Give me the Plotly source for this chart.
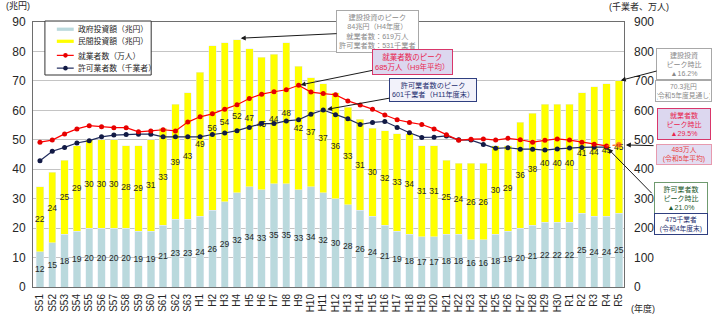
import plotly.graph_objects as go

# 年度
years = ["S51", "S52", "S53", "S54", "S55", "S56", "S57", "S58", "S59", "S60",
         "S61", "S62", "S63", "H1", "H2", "H3", "H4", "H5", "H6", "H7",
         "H8", "H9", "H10", "H11", "H12", "H13", "H14", "H15", "H16", "H17",
         "H18", "H19", "H20", "H21", "H22", "H23", "H24", "H25", "H26", "H27",
         "H28", "H29", "H30", "R1", "R2", "R3", "R4", "R5"]

# 政府投資額（兆円）
gov_invest = [12, 15, 18, 19, 20, 20, 20, 20, 19, 19,
              21, 23, 23, 24, 26, 29, 32, 34, 33, 35,
              35, 33, 34, 32, 30, 28, 26, 24, 21, 19,
              18, 17, 17, 18, 18, 16, 16, 18, 19, 20,
              21, 22, 22, 22, 25, 24, 24, 25]

# 民間投資額（兆円）
priv_invest = [22, 24, 25, 29, 30, 30, 30, 28, 29, 31,
               33, 39, 43, 49, 56, 54, 52, 47, 45, 44,
               48, 42, 37, 37, 36, 33, 31, 30, 32, 33,
               34, 31, 31, 25, 24, 26, 26, 30, 29, 36,
               38, 40, 40, 40, 41, 44, 45, 45]

# 就業者数（万人）
workers = [492, 499, 520, 537, 548, 544, 541, 541, 527, 530,
           534, 530, 560, 578, 588, 604, 619, 640, 655, 663,
           670, 685, 662, 657, 653, 632, 618, 604, 584, 568,
           559, 552, 537, 517, 498, 502, 503, 499, 505, 500,
           492, 498, 503, 499, 492, 485, 479, 483]

# 許可業者数（千業者、年度末）— R5 は未集計
licensed = [429, 461, 474, 489, 497, 510, 516, 518, 519, 519,
            510, 510, 510, 510, 518, 523, 531, 542, 555, 555,
            564, 568, 587, 601, 585, 571, 552, 559, 562, 542,
            524, 508, 509, 513, 500, 499, 484, 471, 473, 468,
            468, 465, 469, 472, 474, 475, 475, None]

legend_names = ["政府投資額（兆円）", "民間投資額（兆円）", "就業者数（万人）", "許可業者数（千業者）"]

FONT = "Liberation Sans, Noto Sans CJK JP, sans-serif"
INK = "#262626"

W, H = 712, 324
L, R, T, B = 29, 88, 22, 32
PW, PH = W - L - R, H - T - B


def fx(p):
    """pixel x -> paper x"""
    return (p - L) / PW


def fy(p):
    """pixel y -> paper y"""
    return (H - B - p) / PH


xs = list(range(len(years)))
BLUE, YELLOW, RED, NAVY = "#BAD9DD", "#FFFF00", "#FF0000", "#1F2A5C"

fig = go.Figure()
fig.add_bar(x=xs, y=gov_invest, name=legend_names[0], marker_color=BLUE,
            width=0.6, text=gov_invest, texttemplate="%{text}",
            textposition="inside", insidetextanchor="middle", textangle=0,
            textfont=dict(size=8.5, color=INK, family=FONT))
fig.add_bar(x=xs, y=priv_invest, name=legend_names[1], marker_color=YELLOW,
            width=0.6, text=priv_invest, texttemplate="%{text}",
            textposition="inside", insidetextanchor="middle", textangle=0,
            textfont=dict(size=8.5, color=INK, family=FONT))
fig.add_scatter(x=xs, y=licensed, yaxis="y2", name=legend_names[3],
                mode="lines+markers", line=dict(color=NAVY, width=1.2),
                marker=dict(size=5, color="#121A45"))
fig.add_scatter(x=xs[:-1], y=workers[:-1], yaxis="y2", name=legend_names[2],
                mode="lines+markers", line=dict(color=RED, width=1.2),
                marker=dict(size=5, color="#E60000"))
# 令和5年は年平均の見込み値
fig.add_scatter(x=xs[-2:], y=workers[-2:], yaxis="y2", showlegend=False,
                mode="lines+markers", line=dict(color="#FF5A1F", width=1.2, dash="dot"),
                marker=dict(size=[0, 5], color="#FF3A1F"))

fig.update_layout(
    width=W, height=H, barmode="stack", showlegend=False,
    margin=dict(l=L, r=R, t=T, b=B),
    paper_bgcolor="white", plot_bgcolor="white",
    font=dict(family=FONT, color=INK),
    uniformtext=dict(mode="show", minsize=8.5),
    xaxis=dict(range=[-0.565, 47.42], tickmode="array", tickvals=xs, ticktext=years,
               tickangle=-90, tickfont=dict(size=10, color=INK), showgrid=False,
               showline=True, mirror=True, linecolor="#6E6E6E", linewidth=1,
               ticks="", ticklabelstandoff=2, zeroline=False),
    yaxis=dict(range=[0, 90], dtick=10, tickfont=dict(size=12, color=INK),
               showgrid=True, gridcolor="#C4C4C4", gridwidth=1,
               showline=True, mirror=True, linecolor="#6E6E6E", linewidth=1,
               ticks="", ticklabelstandoff=4, zeroline=False),
    yaxis2=dict(range=[0, 900], dtick=100, overlaying="y", side="right",
                tickfont=dict(size=12, color=INK), showgrid=False, zeroline=False,
                ticks="", ticklabelstandoff=9),
)

# ---- 凡例 ----
shapes = [
    dict(type="rect", xref="paper", yref="paper", x0=fx(41), x1=fx(148), y0=fy(76), y1=fy(21),
         line=dict(color="#333333", width=1), fillcolor="white"),
    dict(type="rect", xref="paper", yref="paper", x0=fx(53), x1=fx(70), y0=fy(31), y1=fy(27.7),
         line=dict(width=0), fillcolor=BLUE),
    dict(type="rect", xref="paper", yref="paper", x0=fx(53), x1=fx(70), y0=fy(43.3), y1=fy(40),
         line=dict(width=0), fillcolor=YELLOW),
    dict(type="line", xref="paper", yref="paper", x0=fx(53), x1=fx(70), y0=fy(56), y1=fy(56),
         line=dict(color=RED, width=1.2)),
    dict(type="circle", xref="paper", yref="paper", x0=fx(59.4), x1=fx(64), y0=fy(58.3), y1=fy(53.7),
         line=dict(width=0), fillcolor="#E60000"),
    dict(type="line", xref="paper", yref="paper", x0=fx(53), x1=fx(70), y0=fy(69), y1=fy(69),
         line=dict(color=NAVY, width=1.2)),
    dict(type="circle", xref="paper", yref="paper", x0=fx(59.4), x1=fx(64), y0=fy(71.3), y1=fy(66.7),
         line=dict(width=0), fillcolor="#121A45"),
]

annotations = []
for name, yy in zip(legend_names, [29.3, 41.7, 56.3, 69]):
    annotations.append(dict(xref="paper", yref="paper", x=fx(72.5), y=fy(yy),
                            xanchor="left", yanchor="middle", showarrow=False,
                            text=name, font=dict(size=7.8, color=INK)))

# ---- 軸単位 ----
annotations += [
    dict(xref="paper", yref="paper", x=fx(0), y=fy(6), xanchor="left", yanchor="middle",
         showarrow=False, text="(兆円)", font=dict(size=9, color=INK)),
    dict(xref="paper", yref="paper", x=fx(639), y=fy(6), xanchor="center", yanchor="middle",
         showarrow=False, text="(千業者、万人)", font=dict(size=9, color=INK)),
    dict(xref="paper", yref="paper", x=fx(643), y=fy(314), xanchor="center", yanchor="middle",
         showarrow=False, text="(年度)", font=dict(size=9, color=INK)),
]

ARROW = "#1A1A1A"
GRAY_T, GRAY_B = "#8A8A8A", "#A8A8A8"
PINK_T, PINK_B, PINK_BG = "#E8264F", "#D9366A", "#DCD7EF"
NAVY_T, NAVY_B = "#1F2F70", "#2F3F80"
GREEN_T, GREEN_B = "#1E5A2C", "#6F9A6F"


def xpx(i):
    return L + (i + 0.565) * PW / 47.985


def y1px(v):
    return H - B - v * PH / 90


def y2px(v):
    return H - B - v * PH / 900


peak_inv = gov_invest[16] + priv_invest[16]
last_inv = gov_invest[-1] + priv_invest[-1]

# 建設投資のピーク
annotations.append(dict(
    x=16.3, y=peak_inv + 0.5, xref="x", yref="y",
    ax=375 - xpx(16.3), ay=32 - y1px(peak_inv + 0.5),
    showarrow=True, arrowhead=2, arrowsize=1, arrowwidth=1, arrowcolor=ARROW,
    text="建設投資のピーク<br>84兆円（H4年度）<br>就業者数：619万人<br>許可業者数：531千業者",
    font=dict(size=7.2, color=GRAY_T), bgcolor="white", bordercolor=GRAY_B,
    borderwidth=1, borderpad=2))

# 就業者数のピーク
annotations.append(dict(
    x=21, y=workers[21], xref="x", yref="y2",
    ax=410 - xpx(21), ay=63.5 - y2px(workers[21]),
    showarrow=True, arrowhead=2, arrowsize=1, arrowwidth=1, arrowcolor=ARROW, standoff=2,
    text="就業者数のピーク<br>685万人（H9年平均）",
    font=dict(size=7.5, color=PINK_T), bgcolor=PINK_BG, bordercolor=PINK_B,
    borderwidth=1, borderpad=2))

# 許可業者数のピーク
annotations.append(dict(
    x=23, y=licensed[23], xref="x", yref="y2",
    ax=431 - xpx(23), ay=92 - y2px(licensed[23]),
    showarrow=True, arrowhead=2, arrowsize=1, arrowwidth=1, arrowcolor=ARROW, standoff=4,
    text="許可業者数のピーク<br>601千業者（H11年度末）",
    font=dict(size=7.2, color=NAVY_T), bgcolor="#F2F2FA", bordercolor=NAVY_B,
    borderwidth=1, borderpad=2))

# 右側の比較ボックス
annotations.append(dict(
    x=47, y=last_inv, xref="x", yref="y",
    ax=684 - xpx(47), ay=65 - y1px(last_inv),
    showarrow=True, arrowhead=2, arrowsize=1, arrowwidth=1, arrowcolor=ARROW, standoff=2,
    text="建設投資<br>ピーク時比<br>▲16.2%", width=50,
    font=dict(size=7, color=GRAY_T), bgcolor="white", bordercolor=GRAY_B,
    borderwidth=1, borderpad=2))
annotations.append(dict(
    xref="paper", yref="paper", x=fx(684), y=fy(92.5), xanchor="center", yanchor="middle",
    showarrow=False, text="70.3兆円<br>(令和5年度見通し)", width=53,
    font=dict(size=6.8, color=GRAY_T), bgcolor="white", bordercolor=GRAY_B,
    borderwidth=1, borderpad=1))
annotations.append(dict(
    xref="paper", yref="paper", x=fx(684), y=fy(125.5), xanchor="center", yanchor="middle",
    showarrow=False, text="就業者数<br>ピーク時比<br>▲29.5%", width=48,
    font=dict(size=7, color=PINK_T), bgcolor=PINK_BG, bordercolor=PINK_B,
    borderwidth=1, borderpad=2))
annotations.append(dict(
    xref="paper", yref="paper", x=fx(684), y=fy(156.5), xanchor="center", yanchor="middle",
    showarrow=False, text="483万人<br>(令和5年平均)", width=52,
    font=dict(size=6.8, color="#E8403F"), bgcolor="#E2DDF2", bordercolor="#E79AAE",
    borderwidth=1, borderpad=1))
annotations.append(dict(
    x=47, y=workers[-1], xref="x", yref="y2",
    ax=655 - xpx(47), ay=148 - y2px(workers[-1]),
    showarrow=True, arrowhead=2, arrowsize=1, arrowwidth=1, arrowcolor=ARROW, standoff=7,
    text=""))
annotations.append(dict(
    xref="paper", yref="paper", x=fx(681), y=fy(201.5), xanchor="center", yanchor="middle",
    showarrow=False, text="許可業者数<br>ピーク時比<br>▲21.0%", width=48,
    font=dict(size=7, color=GREEN_T), bgcolor="white", bordercolor=GREEN_B,
    borderwidth=1, borderpad=2))
annotations.append(dict(
    x=46, y=licensed[46], xref="x", yref="y2",
    ax=653 - xpx(46), ay=197 - y2px(licensed[46]),
    showarrow=True, arrowhead=2, arrowsize=1, arrowwidth=1, arrowcolor=ARROW, standoff=2,
    text=""))
annotations.append(dict(
    xref="paper", yref="paper", x=fx(681), y=fy(228), xanchor="center", yanchor="middle",
    showarrow=False, text="475千業者<br>(令和4年度末)", width=50,
    font=dict(size=6.8, color=NAVY_T), bgcolor="white", bordercolor=NAVY_B,
    borderwidth=1, borderpad=1))

fig.update_layout(shapes=shapes, annotations=annotations)
fig.write_html("out.html")
